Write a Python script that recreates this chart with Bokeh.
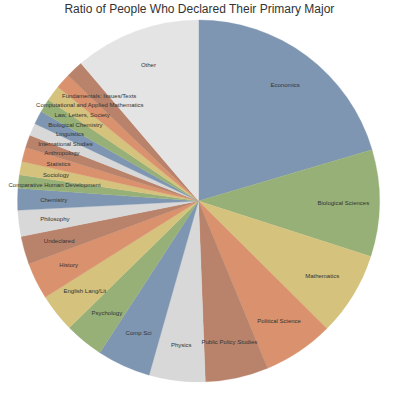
import numpy as np
from bokeh.plotting import figure
from bokeh.models import ColumnDataSource
from bokeh.core.properties import value
from bokeh.embed import file_html
from bokeh.resources import INLINE

title_text = "Ratio of People Who Declared Their Primary Major"

majors = [
    "Economics", "Biological Sciences", "Mathematics", "Political Science",
    "Public Policy Studies", "Physics", "Comp Sci", "Psychology",
    "English Lang/Lit", "History", "Undeclared", "Philosophy", "Chemistry",
    "Comparative Human Development", "Sociology", "Statistics", "Anthropology",
    "International Studies", "Linguistics", "Biological Chemistry",
    "Law, Letters, Society", "Computational and Applied Mathematics",
    "Fundamentals: Issues/Texts", "Other",
]
ratios = [
    20.42, 9.53, 7.50, 6.31, 5.64, 5.00, 4.78, 3.47, 3.42, 3.28, 2.50, 2.33,
    1.94, 1.19, 1.19, 1.28, 1.14, 1.11, 1.19, 1.22, 1.39, 1.36, 1.56, 11.25,
]

palette = ["#7f96b2", "#96b077", "#d5c27d", "#da916d", "#b9836b", "#d8d8d8"]
other_color = "#e4e4e4"

W, H = 390, 390
cx, cy, R = 198, 189.5, 181

vals = np.array(ratios, dtype=float)
frac = vals / vals.sum()
cum_end = np.cumsum(frac) * 2 * np.pi
cum_start = cum_end - frac * 2 * np.pi
start_angle = np.pi / 2 - cum_start
end_angle = np.pi / 2 - cum_end
mid = np.pi / 2 - (cum_start + cum_end) / 2

colors = [palette[i % len(palette)] for i in range(len(majors))]
colors[-1] = other_color

src = ColumnDataSource(dict(
    major=majors, ratio=ratios, start=start_angle, end=end_angle,
    color=colors,
    lx=cx + 0.8 * R * np.cos(mid), ly=cy + 0.8 * R * np.sin(mid),
))

p = figure(width=W, height=H, x_range=(0, W), y_range=(0, H),
           output_backend="svg", toolbar_location=None, min_border=0)
p.axis.visible = False
p.grid.visible = False
p.outline_line_color = None
p.background_fill_color = "white"
p.border_fill_color = "white"

p.wedge(x=cx, y=cy, radius=R, start_angle="start", end_angle="end",
        direction="clock", fill_color="color", line_color="color",
        line_width=0.3, source=src)

p.text(x="lx", y="ly", text="major", source=src, text_align="center",
       text_baseline="middle", text_font=value("Liberation Sans"),
       text_font_size="6px", text_color="#333333")

p.text(x=[199], y=[H - 8], text=[title_text], text_align="center",
       text_baseline="alphabetic", text_font=value("Liberation Sans"),
       text_font_size="12px", text_color="#333333")

open("out.html", "w").write(file_html(p, INLINE))
